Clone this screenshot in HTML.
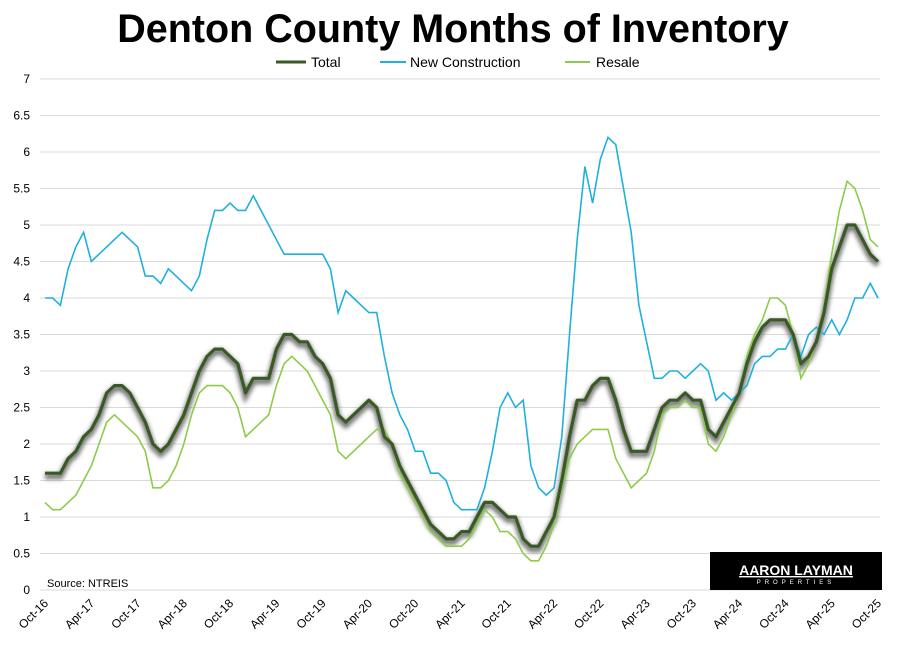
<!DOCTYPE html>
<html><head><meta charset="utf-8"><style>
body{margin:0;background:#fff;width:900px;height:653px;overflow:hidden;font-family:"Liberation Sans",sans-serif}
</style></head><body>
<svg id="c" width="900" height="653" xmlns="http://www.w3.org/2000/svg" font-family="Liberation Sans, sans-serif">
<defs><filter id="sh" x="-5%" y="-5%" width="110%" height="110%"><feGaussianBlur stdDeviation="2"/></filter></defs>
<text x="453" y="42" text-anchor="middle" font-size="39.5" font-weight="bold" fill="#000">Denton County Months of Inventory</text>
<line x1="276" y1="62" x2="306" y2="62" stroke="#3a5a25" stroke-width="3"/>
<text x="311" y="67" font-size="14">Total</text>
<line x1="380" y1="62" x2="406" y2="62" stroke="#1fb0e0" stroke-width="2"/>
<text x="410" y="67" font-size="14">New Construction</text>
<line x1="565" y1="62" x2="590" y2="62" stroke="#8ccc4a" stroke-width="2"/>
<text x="596" y="67" font-size="14">Resale</text>
<g id="grid"></g>
<g id="series"></g>
<text x="47" y="587" font-size="11">Source: NTREIS</text>
<rect x="710" y="552" width="172" height="38" fill="#000"/>
<text x="796" y="575" text-anchor="middle" font-size="14" fill="#fff" font-weight="bold" text-decoration="underline">AARON LAYMAN</text>
<text x="796" y="584" text-anchor="middle" font-size="6" fill="#fff" letter-spacing="4">PROPERTIES</text>
</svg>
<script>
var Y=v=>590-v*73, X=m=>45+m*(833/108);
var g='';
for(var i=0;i<=14;i++){var v=i/2,y=Y(v);g+='<line x1="40" x2="880" y1="'+y+'" y2="'+y+'" stroke="#d9d9d9" stroke-width="1"/>';
g+='<text x="30" y="'+(y+4)+'" text-anchor="end" font-size="12">'+v+'</text>';}
var lab=['Oct-16','Apr-17','Oct-17','Apr-18','Oct-18','Apr-19','Oct-19','Apr-20','Oct-20','Apr-21','Oct-21','Apr-22','Oct-22','Apr-23','Oct-23','Apr-24','Oct-24','Apr-25','Oct-25'];
lab.forEach((l,i)=>{var x=X(i*6)+4,y=604;g+='<text x="'+x+'" y="'+y+'" text-anchor="end" font-size="12" transform="rotate(-45 '+x+' '+y+')">'+l+'</text>';});
document.getElementById('grid').innerHTML=g;
var tot=[1.6,1.6,1.6,1.8,1.9,2.1,2.2,2.4,2.7,2.8,2.8,2.7,2.5,2.3,2.0,1.9,2.0,2.2,2.4,2.7,3.0,3.2,3.3,3.3,3.2,3.1,2.7,2.9,2.9,2.9,3.3,3.5,3.5,3.4,3.4,3.2,3.1,2.9,2.4,2.3,2.4,2.5,2.6,2.5,2.1,2.0,1.7,1.5,1.3,1.1,0.9,0.8,0.7,0.7,0.8,0.8,1.0,1.2,1.2,1.1,1.0,1.0,0.7,0.6,0.6,0.8,1.0,1.5,2.1,2.6,2.6,2.8,2.9,2.9,2.6,2.2,1.9,1.9,1.9,2.2,2.5,2.6,2.6,2.7,2.6,2.6,2.2,2.1,2.3,2.5,2.7,3.1,3.4,3.6,3.7,3.7,3.7,3.5,3.1,3.2,3.4,3.8,4.4,4.7,5.0,5.0,4.8,4.6,4.5];
var res=[1.2,1.1,1.1,1.2,1.3,1.5,1.7,2.0,2.3,2.4,2.3,2.2,2.1,1.9,1.4,1.4,1.5,1.7,2.0,2.4,2.7,2.8,2.8,2.8,2.7,2.5,2.1,2.2,2.3,2.4,2.8,3.1,3.2,3.1,3.0,2.8,2.6,2.4,1.9,1.8,1.9,2.0,2.1,2.2,2.2,2.0,1.6,1.4,1.2,1.0,0.8,0.7,0.6,0.6,0.6,0.7,0.9,1.1,1.0,0.8,0.8,0.7,0.5,0.4,0.4,0.6,0.9,1.4,1.8,2.0,2.1,2.2,2.2,2.2,1.8,1.6,1.4,1.5,1.6,1.9,2.4,2.5,2.5,2.6,2.5,2.5,2.0,1.9,2.1,2.4,2.7,3.2,3.5,3.7,4.0,4.0,3.9,3.5,2.9,3.1,3.4,3.9,4.6,5.2,5.6,5.5,5.2,4.8,4.7];
var nc=[4.0,4.0,3.9,4.4,4.7,4.9,4.5,4.6,4.7,4.8,4.9,4.8,4.7,4.3,4.3,4.2,4.4,4.3,4.2,4.1,4.3,4.8,5.2,5.2,5.3,5.2,5.2,5.4,5.2,5.0,4.8,4.6,4.6,4.6,4.6,4.6,4.6,4.4,3.8,4.1,4.0,3.9,3.8,3.8,3.2,2.7,2.4,2.2,1.9,1.9,1.6,1.6,1.5,1.2,1.1,1.1,1.1,1.4,1.9,2.5,2.7,2.5,2.6,1.7,1.4,1.3,1.4,2.1,3.5,4.8,5.8,5.3,5.9,6.2,6.1,5.5,4.9,3.9,3.4,2.9,2.9,3.0,3.0,2.9,3.0,3.1,3.0,2.6,2.7,2.6,2.7,2.8,3.1,3.2,3.2,3.3,3.3,3.5,3.2,3.5,3.6,3.5,3.7,3.5,3.7,4.0,4.0,4.2,4.0];
function pts(a){return a.map((v,i)=>X(i).toFixed(1)+','+Y(v).toFixed(1)).join(' ');}
var s='';
s+='<polyline points="'+pts(tot)+'" fill="none" stroke="#777" stroke-width="6" filter="url(#sh)" transform="translate(0,3)"/>';
s+='<polyline points="'+pts(nc)+'" fill="none" stroke="#1fb0e0" stroke-width="1.6"/>';
s+='<polyline points="'+pts(res)+'" fill="none" stroke="#8ccc4a" stroke-width="1.6"/>';
s+='<polyline points="'+pts(tot)+'" fill="none" stroke="#3a5a25" stroke-width="3.2" stroke-linejoin="round"/>';
document.getElementById('series').innerHTML=s;
</script>
</body></html>
